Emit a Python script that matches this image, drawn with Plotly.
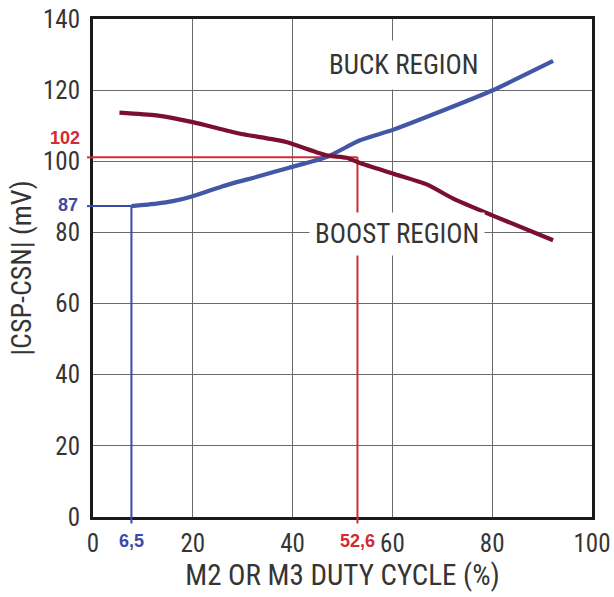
import plotly.graph_objects as go

# ---- data ----
buck_duty = [7.7, 12.7, 16, 20, 26, 32.7, 39.3, 46.8, 53.5, 60.2, 70, 80, 92.2]
buck_mv = [87.4, 88.1, 88.8, 90.2, 93.0, 95.6, 98.2, 101.2, 105.9, 108.9, 114.2, 119.9, 128.2]

boost_duty = [5.3, 12.7, 20, 29.3, 38.5, 46.8, 50.8, 53.5, 60.2, 66.9, 72.2, 80, 92.2]
boost_mv = [113.7, 112.9, 111.0, 107.8, 105.5, 101.7, 101.0, 99.5, 96.5, 93.5, 89.5, 84.8, 77.8]

x_ticks = [0, 20, 40, 60, 80, 100]
y_ticks = [0, 20, 40, 60, 80, 100, 120, 140]

# operating points (drawn position, label text)
buck_pt_duty, buck_pt_mv = 7.7, 87.4
buck_pt_duty_label, buck_pt_mv_label = "6,5", "87"
boost_pt_duty, boost_pt_mv = 53.0, 101.1
boost_pt_duty_label, boost_pt_mv_label = "52,6", "102"

# ---- styles ----
FONT = "Roboto Condensed, Liberation Sans Narrow, DejaVu Sans Condensed, sans-serif"
BOLD = "Liberation Sans, Arial, sans-serif"
TXT = "#353535"
BLUE_CURVE = "#4257a6"
RED_CURVE = "#7b0f30"
BLUE_MARK = "#3b4aa8"
RED_MARK = "#d12b36"

fig = go.Figure()
fig.add_trace(go.Scatter(x=buck_duty, y=buck_mv, mode="lines",
                         line=dict(color=BLUE_CURVE, width=4.2, shape="spline", smoothing=0.6),
                         showlegend=False, hoverinfo="skip"))
fig.add_trace(go.Scatter(x=boost_duty, y=boost_mv, mode="lines",
                         line=dict(color=RED_CURVE, width=4.2, shape="spline", smoothing=0.6),
                         showlegend=False, hoverinfo="skip"))

shapes = []
for (px, py, col) in [(buck_pt_duty, buck_pt_mv, BLUE_MARK), (boost_pt_duty, boost_pt_mv, RED_MARK)]:
    ln = dict(color=col, width=2)
    shapes.append(dict(type="line", xref="x", yref="y", x0=0, x1=px, y0=py, y1=py, line=ln, layer="between"))
    shapes.append(dict(type="line", xref="x", yref="y", x0=px, x1=px, y0=0, y1=py, line=ln, layer="between"))
    shapes.append(dict(type="line", xref="x domain", yref="y", x0=-0.012, x1=0, y0=py, y1=py, line=ln))
    shapes.append(dict(type="line", xref="x", yref="y domain", x0=px, x1=px, y0=-0.013, y1=0, line=ln))

annotations = [
    dict(text=boost_pt_mv_label, xref="x domain", x=0, xanchor="right", xshift=-12,
         yref="y", y=boost_pt_mv, yanchor="bottom", yshift=8, showarrow=False, borderpad=0,
         font=dict(family=BOLD, size=18, color=RED_MARK, weight="bold")),
    dict(text=buck_pt_mv_label, xref="x domain", x=0, xanchor="right", xshift=-13,
         yref="y", y=buck_pt_mv, yanchor="middle", yshift=1, showarrow=False,
         font=dict(family=BOLD, size=18, color=BLUE_MARK, weight="bold")),
    dict(text=buck_pt_duty_label, xref="x", x=buck_pt_duty, xanchor="center",
         yref="y domain", y=0, yanchor="top", yshift=-12, showarrow=False,
         font=dict(family=BOLD, size=18, color=BLUE_MARK, weight="bold")),
    dict(text=boost_pt_duty_label, xref="x", x=boost_pt_duty, xanchor="center",
         yref="y domain", y=0, yanchor="top", yshift=-12, showarrow=False,
         font=dict(family=BOLD, size=18, color=RED_MARK, weight="bold")),
    dict(text="BUCK REGION", xref="x", x=62.4, yref="y", y=127, showarrow=False,
         bgcolor="white", borderpad=8, font=dict(family=FONT, size=27, color=TXT)),
    dict(text="BOOST REGION", xref="x", x=61, yref="y", y=79.6, showarrow=False,
         bgcolor="white", borderpad=5, font=dict(family=FONT, size=27, color=TXT)),
]

axis_common = dict(showline=True, linecolor="#1a1a1a", linewidth=3, mirror=True,
                   showgrid=True, gridcolor="#6a6a6a", gridwidth=1.2, zeroline=False,
                   automargin=False, ticklabeloverflow="allow",
                   ticks="", tickfont=dict(family=FONT, size=25, color=TXT))

fig.update_layout(
    width=614, height=597,
    margin=dict(l=93, r=22, t=19, b=80),
    paper_bgcolor="white", plot_bgcolor="white",
    shapes=shapes, annotations=annotations,
    xaxis=dict(range=[0, 100], tickvals=x_ticks, ticklabelstandoff=2,
               title=dict(text="M2 OR M3 DUTY CYCLE (%)", font=dict(family=FONT, size=29, color=TXT), standoff=6),
               **axis_common),
    yaxis=dict(range=[0, 140], tickvals=y_ticks, ticklabelstandoff=5,
               title=dict(text="|CSP-CSN| (mV)", font=dict(family=FONT, size=28, color=TXT), standoff=4),
               **axis_common),
)

# remove the browser's default page margin so the figure fills the window exactly
fig.write_html("out.html",
               config={"displayModeBar": False, "staticPlot": True},
               post_script="document.body.style.margin='0';document.body.style.overflow='hidden';")
